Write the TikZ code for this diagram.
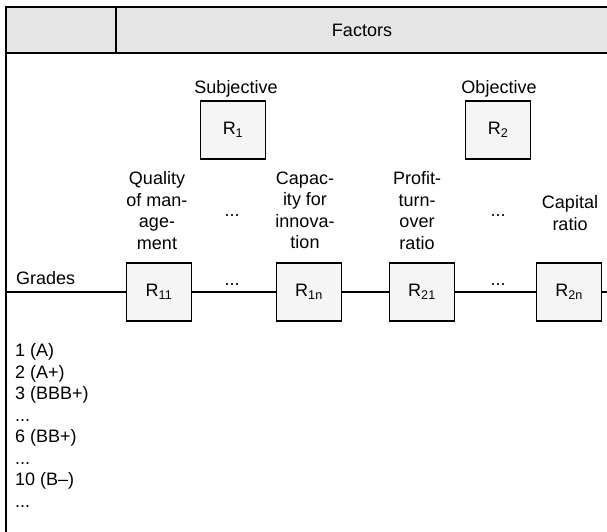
\documentclass[tikz,border=0pt]{standalone}
\usepackage{fontspec}
\setmainfont{Liberation Sans}
\usepackage{tikz}
\usetikzlibrary{positioning}
\definecolor{headgray}{RGB}{229,229,229}
\definecolor{boxgray}{RGB}{245,245,245}
\tikzset{
  rbox/.style={draw,line width=1.8pt,fill=boxgray,minimum width=65pt,minimum height=58pt,inner sep=0pt},
  lbl/.style={align=center,inner sep=0pt},
  txt/.style={inner sep=0pt},
  frame/.style={line width=1.8pt},
}

\begin{document}
\begin{tikzpicture}[x=1pt,y=-1pt,font=\fontsize{18}{21.5}\selectfont]
	\useasboundingbox (0,0) rectangle (607,532);
	\fill[headgray] (6,7) rectangle (607,53);
	\draw[frame] (607,7) -- (6,7) -- (6,532);
	\draw[frame] (6,53) -- (607,53);
	\draw[frame] (116,7) -- (116,53);
	\node[txt,anchor=base] (factors) at (362,36.5) {Factors};

	\node[txt,anchor=base] (subj) at (236,94) {Subjective};
	\node[txt,anchor=base] (obj) at (499,94) {Objective};
	\node[rbox] (r1) at (233,130) {R\textsubscript{1}};
	\node[rbox] (r2) at (498,130) {R\textsubscript{2}};

	\node[lbl] (quality) at (157,210.5) {Quality\\of man-\\age-\\ment};
	\node[txt,anchor=base] (ldotsa) at (232,216) {...};
	\node[lbl] (capacity) at (305,210.5) {Capac-\\ity for\\innova-\\tion};
	\node[lbl] (profit) at (417,210.5) {Profit-\\turn-\\over\\ratio};
	\node[txt,anchor=base] (ldotsb) at (498,216) {...};
	\node[lbl] (capital) at (570,213) {Capital\\ratio};

	\node[txt,anchor=base west] (grades) at (16,284.5) {Grades};
	\coordinate (rowstart) at (6,292);
	\coordinate (rowend) at (607,292);
	\node[rbox] (r11) at (159,292) {R\textsubscript{11}};
	\node[rbox] (r1n) at (309,292) {R\textsubscript{1n}};
	\node[rbox] (r21) at (422,292) {R\textsubscript{21}};
	\node[rbox] (r2n) at (569,292) {R\textsubscript{2n}};
	\draw[frame] (rowstart) -- (r11) -- (r1n) -- (r21) -- (r2n) -- (rowend);
	\node[txt,anchor=base] (rdotsa) at (232,285) {...};
	\node[txt,anchor=base] (rdotsb) at (498,285) {...};

	\node[txt,anchor=base west] (g1) at (15,356.5) {1 (A)};
	\node[txt,anchor=base west] (g2) at (15,378) {2 (A+)};
	\node[txt,anchor=base west] (g3) at (15,399.5) {3 (BBB+)};
	\node[txt,anchor=base west] (g4) at (15,421) {...};
	\node[txt,anchor=base west] (g6) at (15,442.5) {6 (BB+)};
	\node[txt,anchor=base west] (g7) at (15,464) {...};
	\node[txt,anchor=base west] (g10) at (15,485.5) {10 (B–)};
	\node[txt,anchor=base west] (g11) at (15,507) {...};
\end{tikzpicture}
\end{document}
